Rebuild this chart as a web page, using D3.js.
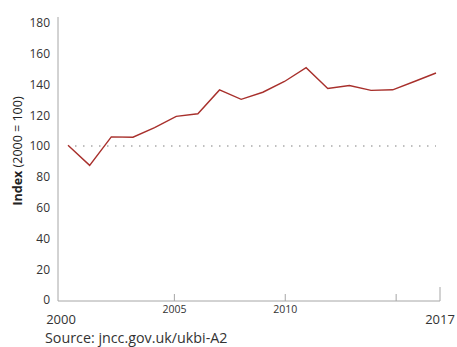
<!DOCTYPE html>
<html><head><meta charset="utf-8">
<script src="https://cdn.jsdelivr.net/npm/d3@7"></script>
<style>body{margin:0;background:#fff}svg{display:block;font-family:"Open Sans",sans-serif}</style>
</head><body><svg id="c" width="457" height="347"></svg>
<script>
const years = [2000,2001,2002,2003,2004,2005,2006,2007,2008,2009,2010,2011,2012,2013,2014,2015,2016,2017];
const index = [100.5,87.5,106,105.8,112,119.3,121,136.5,130.4,135,142,151,137.5,139.4,136.2,136.6,142,147.5];
const yTicks = [0,20,40,60,80,100,120,140,160,180];
const xTicksSmall = [2005,2010,2015];
const xTickLabelsSmall = ["2005","2010",""];
const xTicksBig = ["2000","2017"];
const baseline = 100;

const svg = d3.select("#c");
const y = d3.scaleLinear().domain([0,180]).range([300,23]);
const xAxisScale = d3.scaleLinear().domain([2000,2017]).range([63,440]);
const x = d3.scaleLinear().domain([2000,2017]).range([68,436]);
const axisCol = "#a6a6a6";

// y axis
const ya = svg.append("g").attr("transform","translate(58,0)")
  .call(d3.axisLeft(y).tickValues(yTicks).tickSize(0).tickPadding(8));
ya.select(".domain").attr("stroke",axisCol).attr("d","M0,17V301");
ya.selectAll("text").attr("font-size",12).attr("fill","#333").attr("font-family","Open Sans");

// x axis
const xa = svg.append("g").attr("transform","translate(0,301)")
  .call(d3.axisTop(xAxisScale).tickValues(xTicksSmall).tickSize(7).tickFormat((d,i)=>xTickLabelsSmall[i]));
xa.select(".domain").attr("stroke",axisCol).attr("d","M58,0H440");
xa.selectAll(".tick line").attr("stroke",axisCol);
xa.selectAll("text").attr("font-size",10.5).attr("fill","#333").attr("font-family","Open Sans").attr("y",5).attr("dy","0.71em");
svg.append("line").attr("x1",xAxisScale(2017)).attr("x2",xAxisScale(2017)).attr("y1",287).attr("y2",301).attr("stroke",axisCol);

svg.selectAll("text.big").data(xTicksBig).enter().append("text")
  .attr("x",d=>xAxisScale(+d)-(d==="2000"?2:0)).attr("y",324).attr("text-anchor","middle")
  .attr("font-size",13).attr("fill","#333").text(d=>d);

// baseline dotted
svg.append("line").attr("x1",x(2000)+7).attr("x2",x(2017)).attr("y1",y(baseline)).attr("y2",y(baseline))
  .attr("stroke","#aaa").attr("stroke-width",1.5).attr("stroke-dasharray","1.5,6.5");

// line
svg.append("path").datum(years.map((d,i)=>[d,index[i]]))
  .attr("fill","none").attr("stroke","#a8302c").attr("stroke-width",1.4)
  .attr("d",d3.line().x(d=>x(d[0])).y(d=>y(d[1])));

// y label
const yl = svg.append("text").attr("transform","translate(22,151) rotate(-90)")
  .attr("text-anchor","middle").attr("font-size",12.5).attr("fill","#222");
yl.append("tspan").attr("font-weight","bold").text("Index");
yl.append("tspan").text(" (2000 = 100)");

svg.append("text").attr("x",45).attr("y",343).attr("font-size",14.3).attr("fill","#333").text("Source: jncc.gov.uk/ukbi-A2");
</script></body></html>
